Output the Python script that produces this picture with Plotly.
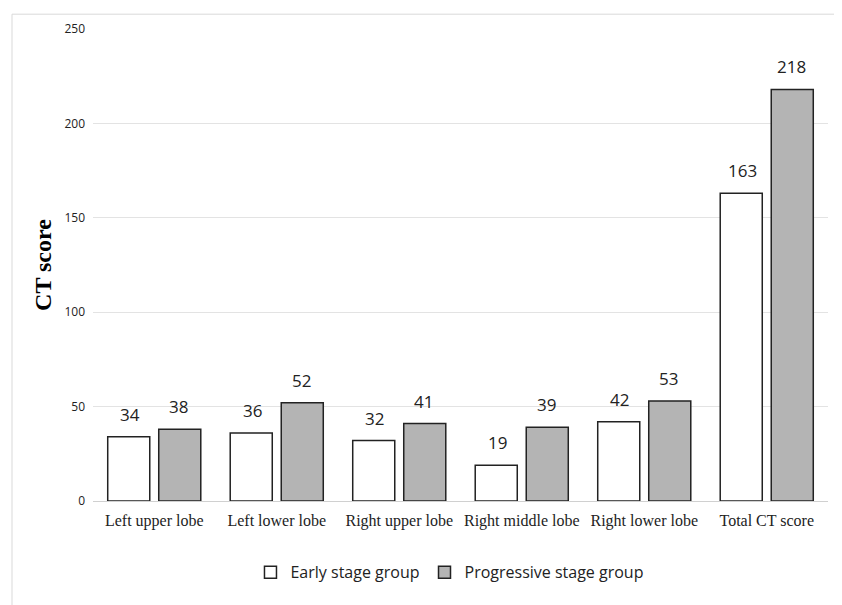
import plotly.graph_objects as go

categories = ["Left upper lobe", "Left lower lobe", "Right upper lobe",
              "Right middle lobe", "Right lower lobe", "Total CT score"]
early = [34, 36, 32, 19, 42, 163]
progressive = [38, 52, 41, 39, 53, 218]
series_names = ["Early stage group", "Progressive stage group"]
y_ticks = [0, 50, 100, 150, 200, 250]

fig = go.Figure()
fig.add_trace(go.Bar(x=categories, y=early, name=series_names[0],
                     marker=dict(color="#ffffff", line=dict(color="#222222", width=1.5))))
fig.add_trace(go.Bar(x=categories, y=progressive, name=series_names[1],
                     marker=dict(color="#b4b4b4", line=dict(color="#222222", width=1.5))))

label_font = dict(family="Open Sans, Liberation Sans, sans-serif", size=17, color="#222222")
for i, c in enumerate(categories):
    for vals, off in ((early, -0.2), (progressive, 0.2)):
        fig.add_annotation(x=i + off, y=vals[i], xref="x", yref="y",
                           text=str(vals[i]), showarrow=False, yanchor="bottom",
                           yshift=9, font=label_font)

# partial outer frame (left and top)
fig.add_shape(type="line", xref="paper", yref="paper", x0=-0.1102, x1=-0.1102,
              y0=1.0314, y1=-0.25, line=dict(color="#d9d9d9", width=1))
fig.add_shape(type="line", xref="paper", yref="paper", x0=-0.1102, x1=1.05,
              y0=1.0314, y1=1.0314, line=dict(color="#d9d9d9", width=1))

fig.update_layout(
    width=834, height=597,
    margin=dict(l=85, r=14, t=16, b=104),
    paper_bgcolor="white", plot_bgcolor="white",
    barmode="group", bargap=0.167, bargroupgap=0.176,
    showlegend=True,
    legend=dict(orientation="h", x=0.485, xanchor="center", y=-0.115, yanchor="top",
                font=dict(family="Open Sans, Liberation Sans, sans-serif", size=16, color="#222222"),
                itemwidth=30, traceorder="normal"),
    xaxis=dict(type="category", tickfont=dict(family="Liberation Serif, serif", size=16, color="#222222"),
               showline=False, showgrid=False, ticks="", zeroline=False, ticklabelstandoff=8),
    yaxis=dict(range=[0, 250], tickvals=y_ticks, showgrid=True, gridcolor="#e3e3e3", gridwidth=1,
               zeroline=True, zerolinecolor="#d0d0d0", zerolinewidth=1,
               tickfont=dict(family="Open Sans, Liberation Sans, sans-serif", size=12, color="#222222"),
               ticklabelstandoff=7,
               title=dict(text="<b>CT score</b>", standoff=6,
                          font=dict(family="Liberation Serif, serif", size=24, color="#000000"))),
)

fig.write_html("out.html")
